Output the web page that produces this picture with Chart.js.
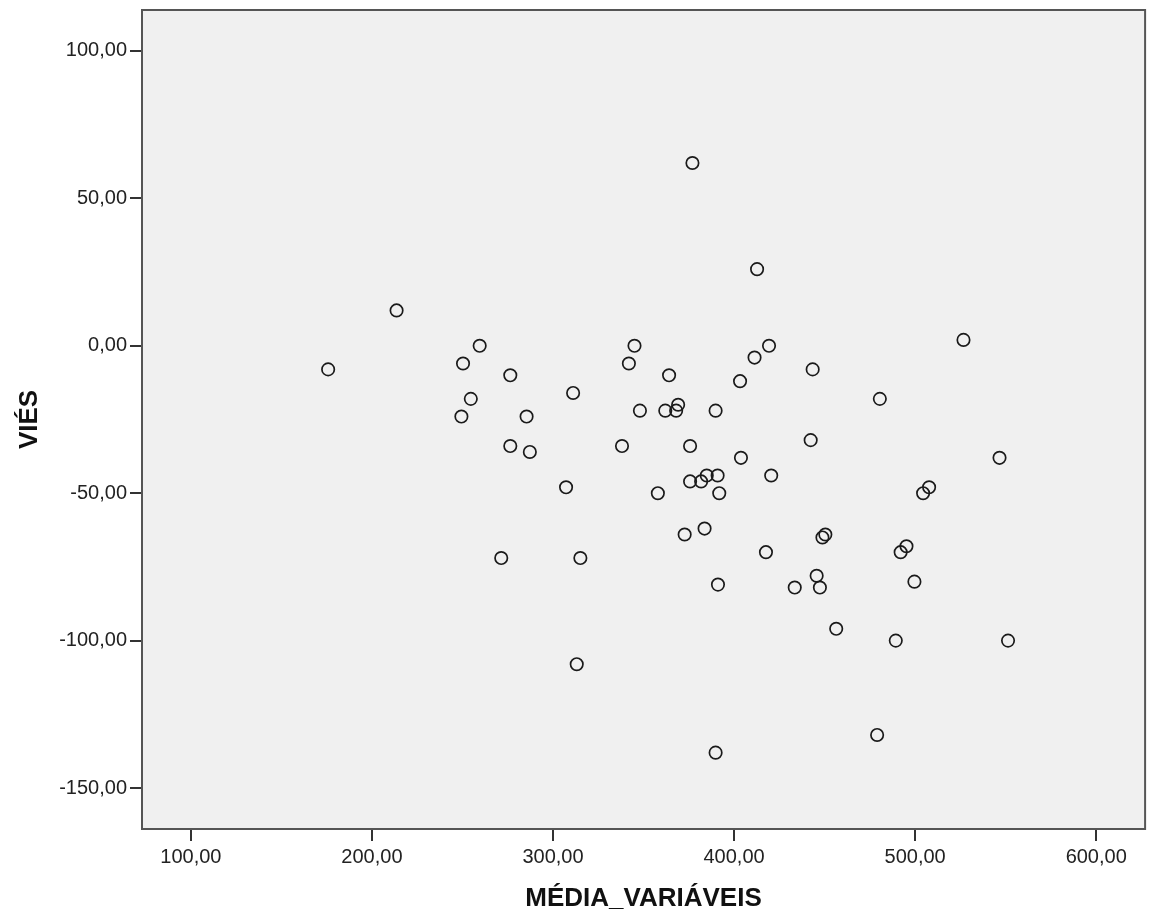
<!DOCTYPE html>
<html>
<head>
<meta charset="utf-8">
<script src="https://cdn.jsdelivr.net/npm/chart.js@4.4.1/dist/chart.umd.min.js"></script>
<style>
  html, body { margin: 0; padding: 0; background: #ffffff; }
  #wrap { width: 1153px; height: 915px; }
</style>
</head>
<body>
<div id="wrap"><canvas id="scatter" width="1153" height="915"></canvas></div>
<script>
// MÉDIA_VARIÁVEIS (x) e VIÉS (y)
const mediaVariaveis = [
  175.8, 213.6, 250.3, 259.5, 254.6, 249.4, 276.4, 285.4, 276.4, 287.2,
  307.2, 271.4, 315.1, 313.1, 311.1, 338.1, 341.9, 345.0, 348.0, 357.9,
  362.0, 364.1, 368.0, 369.1, 377.0, 375.7, 372.7, 375.7, 381.8, 384.9,
  383.7, 390.9, 389.8, 391.8, 391.1, 389.8, 403.3, 403.8, 411.3, 412.7,
  419.3, 420.5, 417.6, 433.5, 443.4, 442.3, 445.6, 447.4, 450.4, 448.8,
  456.4, 480.5, 479.0, 489.3, 495.2, 492.0, 499.6, 504.4, 507.7, 526.7,
  546.6, 551.3
];
const vies = [
  -8, 12, -6, 0, -18, -24, -10, -24, -34, -36,
  -48, -72, -72, -108, -16, -34, -6, 0, -22, -50,
  -22, -10, -22, -20, 62, -34, -64, -46, -46, -44,
  -62, -44, -22, -50, -81, -138, -12, -38, -4, 26,
  0, -44, -70, -82, -8, -32, -78, -82, -64, -65,
  -96, -18, -132, -100, -68, -70, -80, -50, -48, 2,
  -38, -100
];

const xTicks = [100, 200, 300, 400, 500, 600];
const yTicks = [-150, -100, -50, 0, 50, 100];
const xRange = [73, 627];
const yRange = [-163.9, 113.9];

const points = mediaVariaveis.map((x, i) => ({ x: x, y: vies[i] }));

const fmt = v => Number(v).toFixed(2).replace('.', ',');

// fundo cinza e moldura da área do gráfico
const framePlugin = {
  id: 'frame',
  beforeDatasetsDraw(chart) {
    const a = chart.chartArea;
    const ctx = chart.ctx;
    ctx.save();
    ctx.fillStyle = '#f0f0f0';
    ctx.fillRect(a.left, a.top, a.right - a.left, a.bottom - a.top);
    ctx.restore();
  },
  afterDraw(chart) {
    const a = chart.chartArea;
    const ctx = chart.ctx;
    ctx.save();
    ctx.strokeStyle = '#555555';
    ctx.lineWidth = 2;
    ctx.strokeRect(a.left, a.top, a.right - a.left, a.bottom - a.top);
    ctx.restore();
  }
};

const tickFont = { family: "'Liberation Sans', Arial, sans-serif", size: 20 };
const titleFont = { family: "'Liberation Sans', Arial, sans-serif", size: 26, weight: 'bold' };

new Chart(document.getElementById('scatter'), {
  type: 'scatter',
  data: {
    datasets: [{
      data: points,
      pointRadius: 6.2,
      pointHoverRadius: 6.2,
      borderWidth: 1.7,
      borderColor: '#1a1a1a',
      backgroundColor: 'rgba(0,0,0,0)'
    }]
  },
  options: {
    responsive: false,
    animation: false,
    events: [],
    layout: { padding: { top: 10, right: 2, left: 0, bottom: 0 } },
    plugins: { legend: { display: false }, tooltip: { enabled: false } },
    scales: {
      x: {
        type: 'linear',
        min: xRange[0],
        max: xRange[1],
        afterBuildTicks: scale => { scale.ticks = xTicks.map(v => ({ value: v })); },
        afterFit: scale => {
          scale.height = 86;
          scale.paddingLeft = 0;
          scale.paddingRight = 0;
        },
        ticks: { callback: fmt, font: tickFont, color: '#222222', padding: 4, maxRotation: 0 },
        grid: { drawOnChartArea: false, drawTicks: true, tickLength: 12, color: '#333333', lineWidth: 2 },
        border: { display: true, color: '#333333', width: 2 },
        title: { display: true, text: 'MÉDIA_VARIÁVEIS', font: titleFont, color: '#111111', padding: { top: 0, bottom: 1 } }
      },
      y: {
        type: 'linear',
        min: yRange[0],
        max: yRange[1],
        afterBuildTicks: scale => { scale.ticks = yTicks.map(v => ({ value: v })); },
        afterFit: scale => {
          scale.width = 142;
          scale.paddingTop = 0;
          scale.paddingBottom = 0;
        },
        ticks: { callback: fmt, font: tickFont, color: '#222222', padding: 3 },
        grid: { drawOnChartArea: false, drawTicks: true, tickLength: 12, color: '#333333', lineWidth: 2 },
        border: { display: true, color: '#333333', width: 2 },
        title: { display: true, text: 'VIÉS', font: titleFont, color: '#111111', padding: { top: 14, bottom: 0 } }
      }
    }
  },
  plugins: [framePlugin]
});
</script>
</body>
</html>
